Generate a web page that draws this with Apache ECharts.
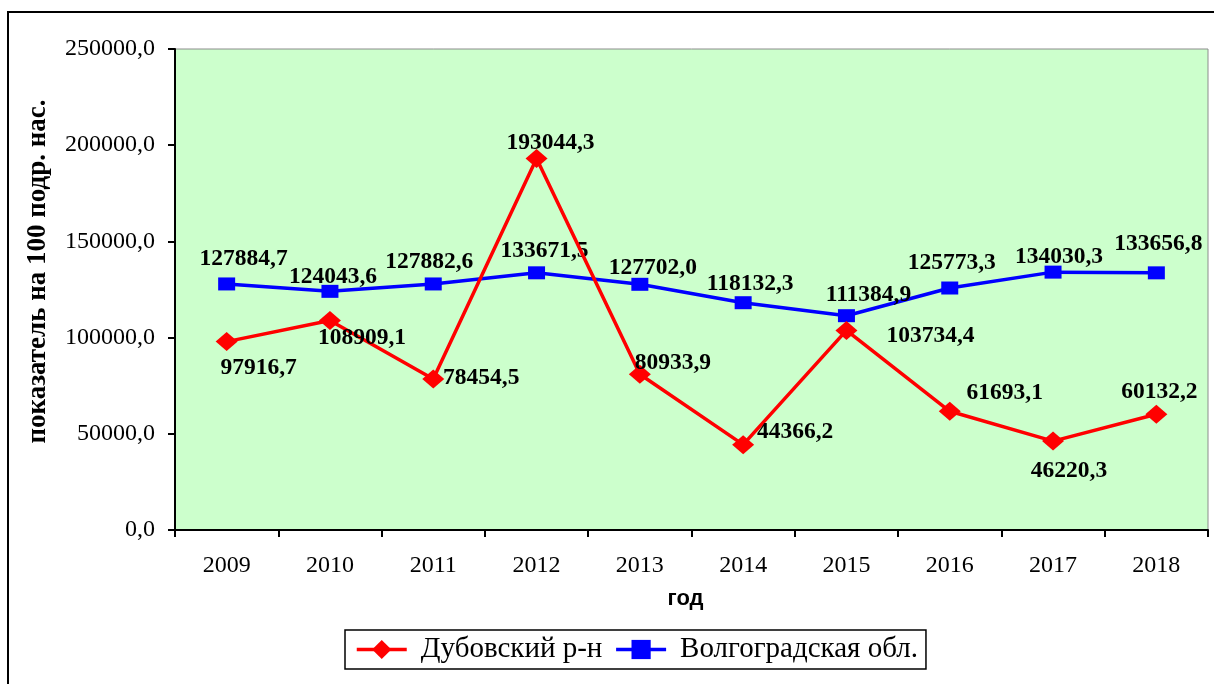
<!DOCTYPE html>
<html>
<head>
<meta charset="utf-8">
<script src="https://cdn.jsdelivr.net/npm/echarts@6/dist/echarts.min.js"></script>
<style>
html,body{margin:0;padding:0;background:#fff;}
#chart{width:1214px;height:684px;}
</style>
</head>
<body>
<div id="chart"></div>
<script>
const years = ['2009','2010','2011','2012','2013','2014','2015','2016','2017','2018'];
const dubovsky = [97916.7, 108909.1, 78454.5, 193044.3, 80933.9, 44366.2, 103734.4, 61693.1, 46220.3, 60132.2];
const volgograd = [127884.7, 124043.6, 127882.6, 133671.5, 127702.0, 118132.3, 111384.9, 125773.3, 134030.3, 133656.8];
const yTicks = [0, 50000, 100000, 150000, 200000, 250000];

const seriesNames = ['Дубовский р-н', 'Волгоградская обл.'];

// label placement (offsets from point, px)
const redLabelOffsets = [[32,26],[32,17],[48,-1],[14,-16],[33,-11],[52,-13],[84,6],[55,-18],[16,30],[3,-22]];
const blueLabelOffsets = [[17,-25],[3,-14],[-4,-22],[8,-22],[13,-16],[7,-19],[22,-21],[2,-25],[6,-15],[2,-29]];

function fmt(v){ return v.toFixed(1).replace('.', ','); }

function buildData(values, offsets){
  return values.map((v,i)=>({
    value: v,
    label: { offset: offsets[i] }
  }));
}

const serif = '"Liberation Serif", "Times New Roman", serif';

const labelStyle = {
  show: true,
  position: 'inside',
  fontFamily: serif,
  fontWeight: 'bold',
  fontSize: 23.5,
  color: '#000',
  formatter: p => fmt(p.value)
};

const chart = echarts.init(document.getElementById('chart'));
chart.setOption({
  animation: false,
  backgroundColor: '#fff',
  graphic: [{
    type: 'rect',
    shape: { x: 8, y: 12, width: 1240, height: 720 },
    style: { fill: 'none', stroke: '#000', lineWidth: 2 },
    z: -1
  }],
  grid: {
    left: 175, right: 6, top: 49, bottom: 154,
    show: true,
    backgroundColor: '#CCFFCC',
    borderColor: '#8c8c8c',
    borderWidth: 1
  },
  legend: {
    left: 345, top: 630,
    padding: [5, 8, 5, 10],
    borderColor: '#000',
    borderWidth: 1.5,
    itemWidth: 50, itemHeight: 24,
    itemGap: 12,
    data: seriesNames,
    lineStyle: { width: 3.5 },
    textStyle: {
      fontFamily: serif,
      fontSize: 29, color: '#000',
      padding: [0, 0, 0, 9]
    }
  },
  xAxis: {
    type: 'category',
    data: years,
    boundaryGap: true,
    name: 'год',
    nameLocation: 'middle',
    nameGap: 58,
    nameTextStyle: {
      fontFamily: '"Liberation Sans", Arial, sans-serif',
      fontWeight: 'bold', fontSize: 22, color: '#000', padding: [0, 12, 0, 0]
    },
    axisLine: { lineStyle: { color: '#000', width: 2 } },
    axisTick: { show: true, length: 7, lineStyle: { color: '#000', width: 2 } },
    axisLabel: {
      margin: 24,
      fontFamily: serif,
      fontSize: 24, color: '#000'
    },
    splitLine: { show: false }
  },
  yAxis: {
    type: 'value',
    min: yTicks[0],
    max: yTicks[yTicks.length-1],
    interval: yTicks[1] - yTicks[0],
    name: 'показатель на 100 подр. нас.',
    nameLocation: 'middle',
    nameGap: 123,
    nameRotate: 90,
    nameTextStyle: {
      fontFamily: serif,
      fontWeight: 'bold', fontSize: 27, color: '#000', padding: [0, 0, 0, 36]
    },
    axisLine: { show: true, lineStyle: { color: '#000', width: 2 } },
    axisTick: { show: true, length: 7, lineStyle: { color: '#000', width: 2 } },
    axisLabel: {
      margin: 20,
      fontFamily: serif,
      fontSize: 24, color: '#000',
      formatter: v => fmt(v)
    },
    splitLine: { show: false }
  },
  series: [
    {
      name: seriesNames[0],
      type: 'line',
      data: buildData(dubovsky, redLabelOffsets),
      symbol: 'diamond',
      symbolSize: [22, 19],
      lineStyle: { color: '#FF0000', width: 3.5 },
      itemStyle: { color: '#FF0000' },
      label: labelStyle,
      z: 3
    },
    {
      name: seriesNames[1],
      type: 'line',
      data: buildData(volgograd, blueLabelOffsets),
      symbol: 'rect',
      symbolSize: [17, 13],
      lineStyle: { color: '#0000FF', width: 3.5 },
      itemStyle: { color: '#0000FF' },
      label: labelStyle,
      z: 2
    }
  ]
});
</script>
</body>
</html>
